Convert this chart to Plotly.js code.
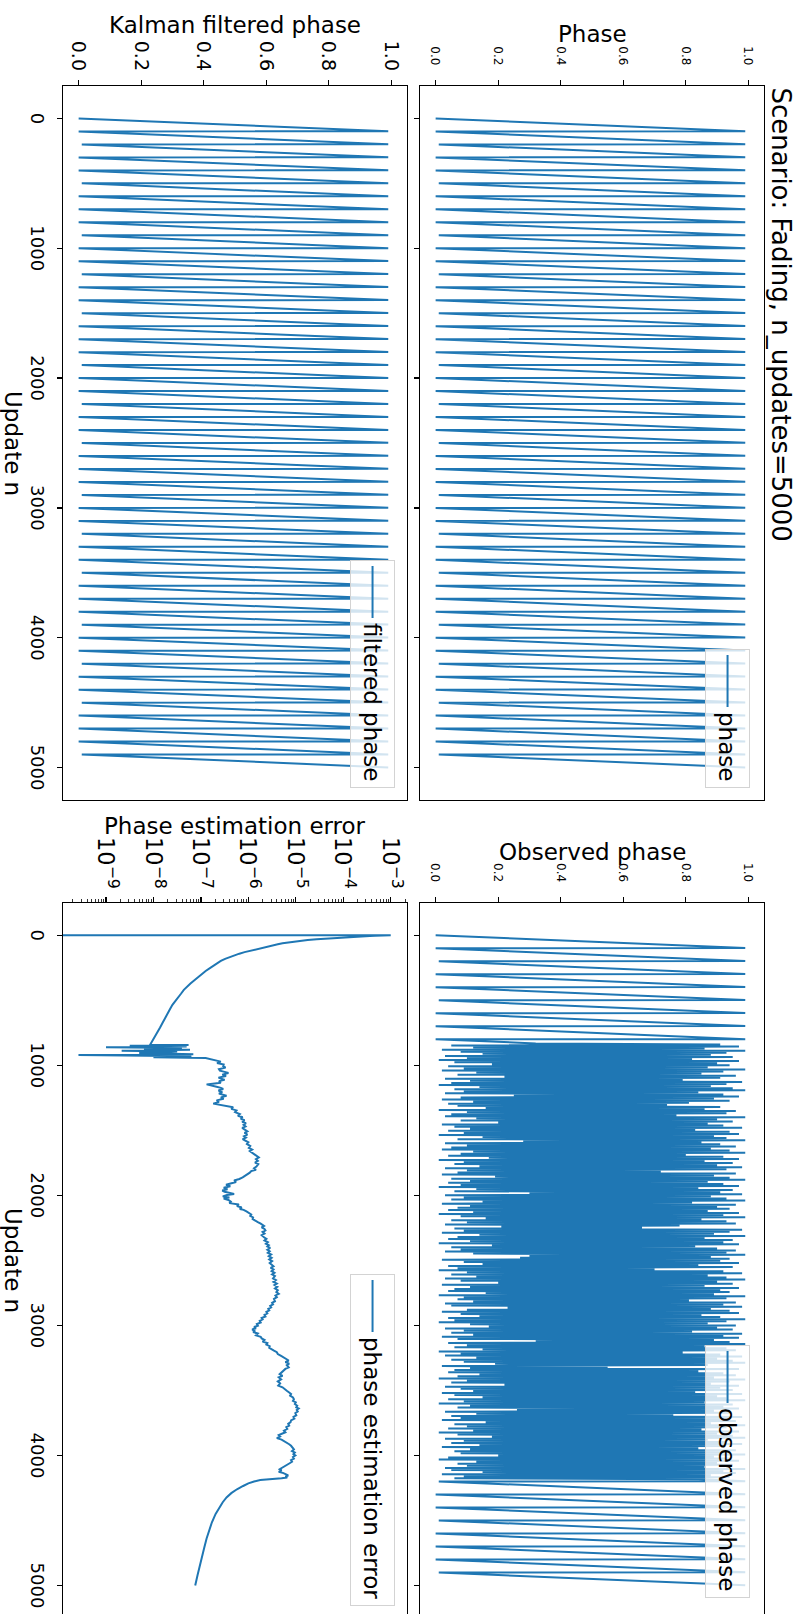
<!DOCTYPE html>
<html>
<head>
<meta charset="utf-8">
<script src="https://cdn.plot.ly/plotly-3.0.1.min.js"></script>
<style>
  html, body { margin: 0; padding: 0; width: 800px; height: 1614px; overflow: hidden; background: #ffffff; }
  #plot { position: absolute; left: 0; top: 0; width: 1640px; height: 800px;
          transform-origin: 0 0; transform: translate(800px, 0) rotate(90deg); }
</style>
</head>
<body>
<div id="plot"></div>
<script>
// ---------------- data ----------------
const titleText = "Scenario: Fading, n_updates=5000";
const nTicks = [0, 1000, 2000, 3000, 4000, 5000];
const phaseTicks = [0.0, 0.2, 0.4, 0.6, 0.8, 1.0];

// true phase: sawtooth vertices (update index, phase)
const phaseN = [0,99,100,199,200,299,300,399,400,499,500,599,600,699,700,799,800,899,900,999,
  1000,1099,1100,1199,1200,1299,1300,1399,1400,1499,1500,1599,1600,1699,1700,1799,1800,1899,1900,1999,
  2000,2099,2100,2199,2200,2299,2300,2399,2400,2499,2500,2599,2600,2699,2700,2799,2800,2899,2900,2999,
  3000,3099,3100,3199,3200,3299,3300,3399,3400,3499,3500,3599,3600,3699,3700,3799,3800,3899,3900,3999,
  4000,4099,4100,4199,4200,4299,4300,4399,4400,4499,4500,4599,4600,4699,4700,4799,4800,4899,4900,4999];
const phaseV = [0.00,0.99,0.00,0.99,0.01,0.99,0.00,0.99,0.00,0.99,0.01,0.99,0.00,0.99,0.00,0.99,0.00,0.99,0.01,0.99,
  0.00,0.99,0.00,0.99,0.01,0.99,0.00,0.99,0.00,0.99,0.01,0.99,0.00,0.99,0.00,0.99,0.00,0.99,0.01,0.99,
  0.00,0.99,0.00,0.99,0.01,0.99,0.00,0.99,0.00,0.99,0.01,0.99,0.00,0.99,0.00,0.99,0.00,0.99,0.01,0.99,
  0.00,0.99,0.00,0.99,0.01,0.99,0.00,0.99,0.00,0.99,0.01,0.99,0.00,0.99,0.00,0.99,0.00,0.99,0.01,0.99,
  0.00,0.99,0.00,0.99,0.01,0.99,0.00,0.99,0.00,0.99,0.01,0.99,0.00,0.99,0.00,0.99,0.00,0.99,0.01,0.99];

// Kalman filtered phase (indistinguishable from the true phase at this scale)
const filteredN = phaseN.slice();
const filteredV = phaseV.slice();

// observed phase: fading interval and the noisy observations inside it (every 8th update)
const fadeStart = 832, fadeEnd = 4184, noiseStep = 8;
const obsNoise = [
  0.32,0.91,0.05,0.97,0.12,0.86,0.02,0.99,0.08,0.93,0.15,0.88,0.03,0.95,0.10,0.82,0.01,0.97,0.06,0.90,
  0.18,0.94,0.04,0.87,0.09,0.99,0.02,0.92,0.13,0.85,0.07,0.96,0.22,0.91,0.03,0.79,0.11,0.98,0.05,0.93,
  0.01,0.88,0.14,0.95,0.06,0.99,0.09,0.84,0.03,0.92,0.25,0.97,0.08,0.89,0.02,0.94,0.12,0.81,0.04,0.74,
  0.07,0.91,0.16,0.86,0.01,0.96,0.10,0.93,0.05,0.77,0.03,0.99,0.13,0.90,0.08,0.95,0.20,0.87,0.02,0.92,
  0.06,0.98,0.11,0.83,0.04,0.94,0.09,0.97,0.01,0.89,0.15,0.93,0.07,0.99,0.28,0.85,0.03,0.91,0.10,0.96,
  0.05,0.88,0.02,0.94,0.12,0.99,0.08,0.80,0.04,0.92,0.17,0.97,0.01,0.86,0.09,0.95,0.06,0.90,0.14,0.98,
  0.03,0.93,0.10,0.72,0.07,0.96,0.02,0.89,0.19,0.94,0.05,0.99,0.11,0.87,0.04,0.92,0.08,0.97,0.01,0.84,
  0.13,0.95,0.06,0.91,0.30,0.98,0.03,0.88,0.09,0.93,0.05,0.99,0.15,0.82,0.02,0.96,0.11,0.90,0.07,0.94,
  0.04,0.87,0.12,0.97,0.01,0.92,0.08,0.99,0.16,0.85,0.05,0.93,0.10,0.96,0.03,0.78,0.21,0.66,0.06,0.98,
  0.09,0.94,0.02,0.89,0.14,0.99,0.07,0.86,0.04,0.95,0.11,0.92,0.01,0.97,0.18,0.83,0.05,0.90,0.08,0.96,
  0.03,0.93,0.12,0.99,0.30,0.88,0.27,0.94,0.02,0.91,0.09,0.97,0.15,0.84,0.04,0.95,0.07,0.70,0.01,0.92,
  0.10,0.98,0.05,0.87,0.13,0.93,0.03,0.99,0.08,0.90,0.20,0.95,0.02,0.86,0.11,0.97,0.06,0.91,0.04,0.94,
  0.16,0.89,0.01,0.99,0.09,0.93,0.07,0.81,0.12,0.96,0.03,0.92,0.05,0.98,0.23,0.88,0.10,0.94,0.02,0.97,
  0.08,0.85,0.14,0.91,0.04,0.99,0.06,0.93,0.01,0.87,0.11,0.96,0.17,0.90,0.03,0.95,0.09,0.82,0.05,0.98,
  0.12,0.92,0.02,0.97,0.07,0.89,0.32,0.94,0.04,0.99,0.10,0.86,0.06,0.93,0.15,0.96,0.01,0.79,0.08,0.91,
  0.03,0.98,0.13,0.90,0.05,0.95,0.09,0.99,0.19,0.87,0.02,0.55,0.11,0.97,0.06,0.84,0.04,0.92,0.14,0.96,
  0.07,0.89,0.01,0.99,0.10,0.94,0.05,0.88,0.22,0.97,0.03,0.91,0.08,0.95,0.12,0.83,0.02,0.98,0.06,0.90,
  0.15,0.93,0.04,0.99,0.09,0.86,0.01,0.95,0.11,0.92,0.07,0.97,0.26,0.89,0.03,0.94,0.13,0.76,0.05,0.98,
  0.08,0.91,0.02,0.96,0.16,0.88,0.06,0.99,0.10,0.93,0.04,0.85,0.12,0.97,0.01,0.90,0.07,0.95,0.18,0.99,
  0.03,0.87,0.09,0.93,0.05,0.98,0.14,0.91,0.02,0.84,0.11,0.96,0.06,0.92,0.08,0.99,0.20,0.89,0.04,0.94,
  0.01,0.97,0.13,0.90,0.07,0.95,0.10,0.86,0.03,0.99,0.05,0.92,0.15,0.96,0.02,0.88,0.09,0.94,0.06,0.84];

// phase estimation error: update index and log10(error) read from the log axis
// (the first value is zero in the source; drawn as an off-scale value)
const errN = [0,1,3,5,7,10,15,20,25,31,37,43,49,55,62,70,77,86,95,103,112,121,130,142,155,168,182,198,215,233,253,275,300,325,350,372,393,420,450,477,505,535,568,604,640,675,709,745,780,811,842,
  845,850,855,862,868,874,880,888,895,905,915,922,930,938,945,955,
  961,972,983,994,1007,1018,1030,1042,1051,1060,1072,1083,1095,1103,1112,1122,1134,1147,1156,1165,1174,1182,
  1194,1206,1218,1226,1235,1247,1258,1270,1282,1295,1305,1314,1323,1335,1347,1360,1375,1388,1400,1411,1423,
  1435,1446,1458,1470,1481,1495,1508,1520,1533,1545,1556,1568,1580,1592,1605,1621,1635,1648,1660,1674,1686,
  1698,1709,1722,1735,1748,1760,1779,1792,1803,1814,1826,1838,1849,1862,1874,1886,1897,1908,1919,1930,1942,
  1953,1963,1972,1981,1989,1998,2008,2017,2025,2036,2048,2060,2070,2082,2094,2105,2112,2124,2136,2147,2158,
  2170,2182,2194,2206,2218,2226,2235,2246,2258,2270,2282,2294,2306,2323,2335,2347,2360,2372,2383,2393,2405,
  2418,2430,2442,2455,2468,2480,2493,2506,2520,2533,2546,2558,2570,2583,2596,2608,2620,2639,2652,2665,2678,
  2690,2703,2716,2730,2744,2757,2770,2783,2796,2814,2826,2838,2850,2862,2873,2884,2896,2908,2920,2932,2943,
  2954,2966,2978,2990,3002,3012,3022,3032,3042,3052,3062,3077,3088,3100,3112,3124,3136,3148,3160,3172,3182,
  3194,3206,3220,3235,3247,3258,3270,3282,3294,3306,3323,3335,3346,3358,3375,3388,3400,3415,3430,3446,3463,
  3476,3490,3503,3516,3528,3540,3554,3568,3580,3592,3605,3618,3630,3639,3650,3662,3675,3691,3704,3717,3730,
  3744,3757,3770,3783,3796,3810,3822,3832,3844,3855,3867,3878,3890,3902,3914,3926,3940,3954,3966,3978,3990,
  4000,4012,4024,4036,4048,4060,4072,4084,4096,4106,4115,4126,4136,4145,4154,4163,4170,4176,4182,4189,4200,
  4215,4235,4260,4290,4323,4360,4393,4450,4516,4580,4639,4710,4779,4850,4920,5000];
const errLog10 = [-12,-3.0,-3.2,-3.33,-3.44,-3.6,-3.9,-4.14,-4.35,-4.56,-4.75,-4.91,-5.05,-5.17,-5.28,-5.38,-5.47,-5.59,-5.70,-5.80,-5.90,-6.00,-6.08,-6.19,-6.30,-6.40,-6.49,-6.58,-6.66,-6.74,-6.81,-6.90,-6.99,-7.07,-7.15,-7.22,-7.29,-7.36,-7.42,-7.48,-7.54,-7.60,-7.65,-7.71,-7.76,-7.81,-7.86,-7.92,-7.97,-8.02,-8.07,
  -7.26,-8.5,-7.3,-9.0,-7.4,-8.2,-7.23,-8.67,-7.5,-8.3,-7.16,-9.58,-7.2,-8.0,-6.9,-6.75,
  -6.70,-6.58,-6.66,-6.52,-6.53,-6.48,-6.62,-6.60,-6.50,-6.42,-6.55,-6.47,-6.63,-6.56,-6.50,-6.62,-6.58,-6.88,-6.74,-6.67,-6.58,-6.53,
  -6.63,-6.55,-6.62,-6.52,-6.46,-6.58,-6.52,-6.67,-6.62,-6.74,-6.60,-6.45,-6.32,-6.36,-6.25,-6.28,-6.18,-6.22,-6.12,-6.16,-6.08,
  -6.13,-6.05,-6.10,-6.06,-6.13,-6.08,-6.02,-6.08,-6.02,-6.09,-6.05,-6.12,-6.04,-6.00,-6.03,-5.96,-5.99,-5.92,-5.97,-5.91,-5.86,
  -5.82,-5.78,-5.84,-5.80,-5.86,-5.79,-5.83,-5.88,-5.84,-5.94,-5.97,-6.02,-6.05,-6.12,-6.19,-6.30,-6.26,-6.40,-6.47,-6.38,-6.52,
  -6.44,-6.55,-6.50,-6.38,-6.30,-6.45,-6.54,-6.40,-6.52,-6.42,-6.37,-6.40,-6.20,-6.24,-6.14,-6.18,-6.10,-6.04,-6.00,-5.94,-5.96,
  -5.90,-5.91,-5.84,-5.80,-5.74,-5.70,-5.67,-5.72,-5.66,-5.64,-5.70,-5.66,-5.72,-5.67,-5.62,-5.66,-5.59,-5.63,-5.57,-5.60,-5.54,
  -5.60,-5.55,-5.59,-5.52,-5.57,-5.51,-5.56,-5.50,-5.55,-5.52,-5.47,-5.53,-5.47,-5.51,-5.45,-5.50,-5.44,-5.48,-5.42,-5.47,-5.40,
  -5.45,-5.39,-5.44,-5.38,-5.41,-5.36,-5.43,-5.40,-5.46,-5.44,-5.50,-5.48,-5.54,-5.52,-5.58,-5.56,-5.62,-5.60,-5.66,-5.64,-5.72,
  -5.70,-5.76,-5.74,-5.82,-5.80,-5.88,-5.84,-5.92,-5.86,-5.90,-5.80,-5.84,-5.74,-5.72,-5.66,-5.70,-5.60,-5.62,-5.55,-5.56,-5.50,
  -5.46,-5.40,-5.38,-5.31,-5.26,-5.20,-5.15,-5.22,-5.14,-5.19,-5.15,-5.22,-5.26,-5.30,-5.34,-5.28,-5.36,-5.31,-5.38,-5.33,-5.37,
  -5.28,-5.22,-5.19,-5.14,-5.10,-5.12,-5.06,-5.04,-5.06,-5.00,-5.02,-4.97,-4.99,-4.94,-4.98,-4.96,-5.01,-4.99,-5.05,-5.03,-5.10,
  -5.11,-5.16,-5.14,-5.20,-5.18,-5.25,-5.22,-5.28,-5.36,-5.33,-5.40,-5.30,-5.24,-5.18,-5.14,-5.10,-5.07,-5.04,-5.08,-5.02,-5.05,
  -5.01,-5.06,-5.04,-5.10,-5.08,-5.13,-5.18,-5.22,-5.28,-5.34,-5.30,-5.36,-5.26,-5.20,-5.16,-5.22,-5.18,-5.30,-5.55,-5.75,-5.88,
  -6.00,-6.11,-6.24,-6.36,-6.46,-6.54,-6.60,-6.69,-6.77,-6.83,-6.88,-6.93,-6.98,-7.03,-7.07,-7.12];

// ---------------- build traces ----------------
const blue = '#1f77b4';
const lineStyle = {color: blue, width: 2};

// observed phase = clean sawtooth outside the fading window + noisy observations inside
const obsN = [], obsV = [];
for (let i = 0; i < phaseN.length; i++) {
  if (phaseN[i] <= 800) { obsN.push(phaseN[i]); obsV.push(phaseV[i]); }
}
for (let i = 0; i < obsNoise.length; i++) { obsN.push(fadeStart + i * noiseStep); obsV.push(obsNoise[i]); }
for (let i = 0; i < phaseN.length; i++) {
  if (phaseN[i] > fadeEnd) { obsN.push(phaseN[i]); obsV.push(phaseV[i]); }
}

const errV = errLog10.map(v => Math.pow(10, v));

const traces = [
  {x: phaseN, y: phaseV, type: 'scatter', mode: 'lines', line: lineStyle, name: 'phase', xaxis: 'x', yaxis: 'y', legend: 'legend'},
  {x: obsN, y: obsV, type: 'scatter', mode: 'lines', line: lineStyle, name: 'observed phase', xaxis: 'x2', yaxis: 'y2', legend: 'legend2'},
  {x: filteredN, y: filteredV, type: 'scatter', mode: 'lines', line: lineStyle, name: 'filtered phase', xaxis: 'x3', yaxis: 'y3', legend: 'legend3'},
  {x: errN, y: errV, type: 'scatter', mode: 'lines', line: lineStyle, name: 'phase estimation error', xaxis: 'x4', yaxis: 'y4', legend: 'legend4'}
];

// ---------------- layout (landscape figure, rotated by CSS) ----------------
const W = 1640, H = 800;
const px = X => X / W, py = Y => 1 - Y / H;
const colL = [px(86), px(800)], colR = [px(902.7), px(1618)];
const rowT = [py(380), py(36)], rowB = [py(737), py(393)];
const FONT = 'DejaVu Sans, sans-serif';

function xAxis(domain, anchor, labels) {
  return {domain: domain, anchor: anchor, range: [-250, 5250], tickvals: nTicks,
    showticklabels: labels, ticks: 'outside', ticklen: 5, tickwidth: 1.2, tickcolor: '#000',
    ticklabelstandoff: 4,
    showline: true, mirror: true, linecolor: '#000', linewidth: 1.2, showgrid: false, zeroline: false,
    automargin: false, tickfont: {family: FONT, size: 18, color: '#000'}};
}
function yAxis(domain, anchor, fontSize, standoff) {
  return {domain: domain, anchor: anchor, range: [-0.05, 1.05], tickvals: phaseTicks, tickformat: '.1f',
    ticks: 'outside', ticklen: 5, tickwidth: 1.2, tickcolor: '#000', ticklabelstandoff: standoff,
    showline: true, mirror: true, linecolor: '#000', linewidth: 1.2, showgrid: false, zeroline: false,
    automargin: false, tickfont: {family: FONT, size: fontSize, color: '#000'}};
}
function legendAt(X, Y) {
  return {x: px(X), y: py(Y), xanchor: 'right', yanchor: 'top', xref: 'paper', yref: 'paper',
    bgcolor: 'rgba(255,255,255,0.8)', bordercolor: '#d3d3d3', borderwidth: 1, itemwidth: 52,
    font: {family: FONT, size: 23, color: '#000'}};
}
function label(text, X, Y, angle, size) {
  return {text: text, x: px(X), y: py(Y), xref: 'paper', yref: 'paper', xanchor: 'center', yanchor: 'middle',
    showarrow: false, textangle: angle, font: {family: FONT, size: size, color: '#000'}};
}

const layout = {
  width: W, height: H,
  margin: {l: 0, r: 0, t: 0, b: 0, pad: 0},
  paper_bgcolor: '#ffffff', plot_bgcolor: '#ffffff',
  font: {family: FONT, color: '#000'},
  showlegend: true,
  title: {text: titleText, x: px(87.5), xanchor: 'left', xref: 'container', y: py(19), yanchor: 'middle', yref: 'container',
    font: {family: FONT, size: 26, color: '#000'}},
  xaxis: xAxis(colL, 'y', false),
  yaxis: yAxis(rowT, 'x', 12, 12),
  xaxis2: xAxis(colR, 'y2', false),
  yaxis2: yAxis(rowT, 'x2', 12, 12),
  xaxis3: xAxis(colL, 'y3', true),
  yaxis3: yAxis(rowB, 'x3', 19, 5),
  xaxis4: xAxis(colR, 'y4', true),
  yaxis4: {domain: rowB, anchor: 'x4', type: 'log', range: [-9.906, -2.657], dtick: 1,
    exponentformat: 'power', showexponent: 'all',
    ticks: 'outside', ticklen: 5, tickwidth: 1.2, tickcolor: '#000', ticklabelstandoff: 4,
    minor: {ticks: 'outside', ticklen: 3, tickwidth: 0.8, tickcolor: '#000', dtick: 'D1'},
    showline: true, mirror: true, linecolor: '#000', linewidth: 1.2, showgrid: false, zeroline: false,
    automargin: false, tickfont: {family: FONT, size: 18, color: '#000'}},
  legend: legendAt(788, 50),
  legend2: legendAt(1598, 50),
  legend3: legendAt(788, 405),
  legend4: legendAt(1606, 405),
  annotations: [
    label('Phase', 34, 208, -90, 23),
    label('Observed phase', 852, 208, -90, 23),
    label('Kalman filtered phase', 25, 565, -90, 23),
    label('Phase estimation error', 826, 565, -90, 23),
    label('Update n', 443, 787, 0, 23),
    label('Update n', 1260, 787, 0, 23)
  ]
};

Plotly.newPlot('plot', traces, layout, {staticPlot: true, displayModeBar: false});
</script>
</body>
</html>
